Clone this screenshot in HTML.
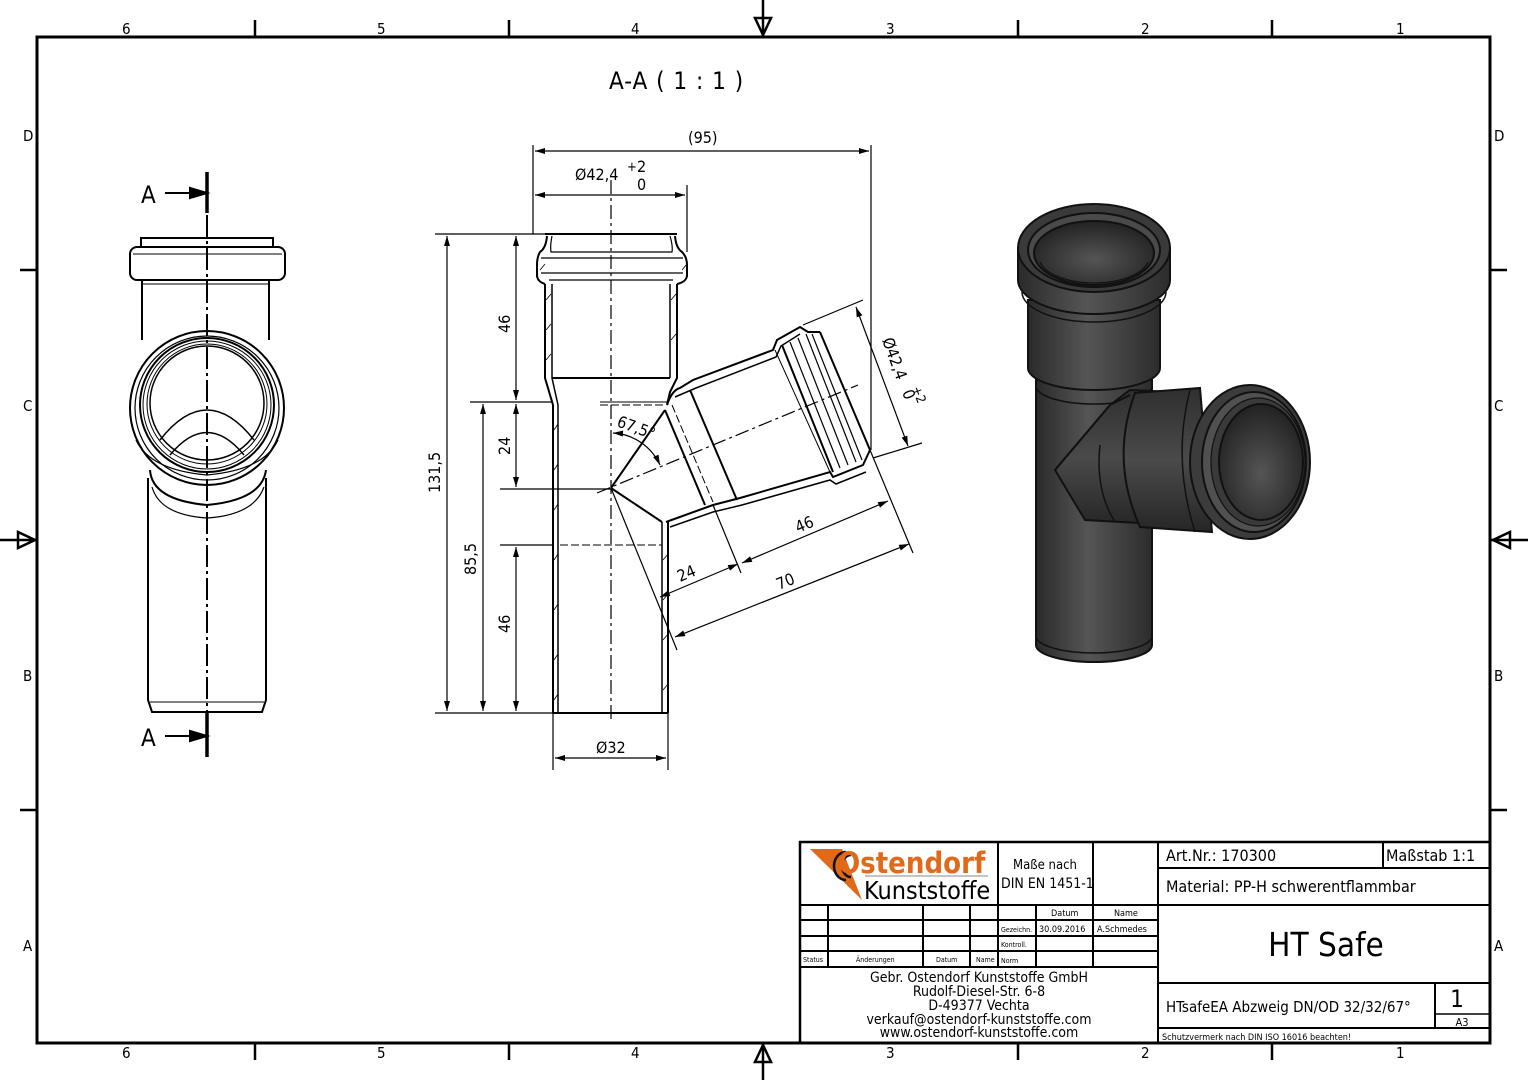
<!DOCTYPE html>
<html><head><meta charset="utf-8"><style>
html,body{margin:0;padding:0;background:#fff}
svg{display:block}
text{font-family:"DejaVu Sans Condensed","Liberation Sans Narrow","Liberation Sans",sans-serif;fill:#000}
</style></head><body>
<svg width="1528" height="1080" viewBox="0 0 1528 1080" xmlns="http://www.w3.org/2000/svg">
<defs>
<marker id="ar" viewBox="0 0 10 6" refX="10" refY="3" markerWidth="12" markerHeight="6" orient="auto-start-reverse" markerUnits="userSpaceOnUse"><path d="M0,0L10,3L0,6z" fill="#000"/></marker>
<linearGradient id="gv" x1="0" x2="1" y1="0" y2="0"><stop offset="0" stop-color="#2a2a2a"/><stop offset="0.45" stop-color="#555"/><stop offset="1" stop-color="#2c2c2c"/></linearGradient>
<linearGradient id="gh" x1="0" x2="0" y1="0" y2="1"><stop offset="0" stop-color="#2f2f2f"/><stop offset="0.5" stop-color="#4a4a4a"/><stop offset="1" stop-color="#262626"/></linearGradient>
<radialGradient id="gi" cx="0.5" cy="0.6" r="0.6"><stop offset="0" stop-color="#555"/><stop offset="1" stop-color="#222"/></radialGradient>
</defs>

<g stroke="#000" fill="none">
<rect x="37" y="37" width="1453" height="1006" stroke-width="3"/>
<g stroke-width="2.5">
<line x1="255" y1="20" x2="255" y2="37"/><line x1="509" y1="20" x2="509" y2="37"/><line x1="1018" y1="20" x2="1018" y2="37"/><line x1="1272" y1="20" x2="1272" y2="37"/>
<line x1="255" y1="1043" x2="255" y2="1060"/><line x1="509" y1="1043" x2="509" y2="1060"/><line x1="1018" y1="1043" x2="1018" y2="1060"/><line x1="1272" y1="1043" x2="1272" y2="1060"/>
<line x1="20" y1="270" x2="37" y2="270"/><line x1="20" y1="810" x2="37" y2="810"/>
<line x1="1490" y1="270" x2="1507" y2="270"/><line x1="1490" y1="810" x2="1507" y2="810"/>
<line x1="763" y1="0" x2="763" y2="37"/><path d="M755,18L771,18L763,35z"/>
<line x1="763" y1="1043" x2="763" y2="1080"/><path d="M755,1062L771,1062L763,1045z"/>
<line x1="0" y1="540" x2="37" y2="540"/><path d="M18,532L18,548L35,540z"/>
<line x1="1490" y1="540" x2="1528" y2="540"/><path d="M1510,532L1510,548L1493,540z"/>
</g></g>
<g font-size="15">
<text x="122" y="34">6</text><text x="377" y="34">5</text><text x="631" y="34">4</text><text x="886" y="34">3</text><text x="1141" y="34">2</text><text x="1396" y="34">1</text>
<text x="122" y="1058">6</text><text x="377" y="1058">5</text><text x="631" y="1058">4</text><text x="886" y="1058">3</text><text x="1141" y="1058">2</text><text x="1396" y="1058">1</text>
<text x="23" y="141">D</text><text x="23" y="411">C</text><text x="23" y="681">B</text><text x="23" y="951">A</text>
<text x="1494" y="141">D</text><text x="1494" y="411">C</text><text x="1494" y="681">B</text><text x="1494" y="951">A</text>
</g>

<text x="609" y="89" font-size="24" letter-spacing="1">A-A ( 1 : 1 )</text>

<!-- left view -->
<g stroke="#000" fill="none" stroke-width="2">
<line x1="207" y1="172" x2="207" y2="213" stroke-width="3.5"/>
<line x1="207" y1="713" x2="207" y2="757" stroke-width="3.5"/>
<line x1="207" y1="215" x2="207" y2="712" stroke-width="2" stroke-dasharray="22,4,3,4"/>
<path d="M141,247L141,238L273,238L273,247"/>
<rect x="130" y="247" width="155" height="33" rx="7"/>
<line x1="133" y1="254" x2="282" y2="254" stroke-width="1"/>
<line x1="141" y1="284" x2="268" y2="284" stroke-width="1"/>
<line x1="142" y1="280" x2="142" y2="340"/><line x1="269" y1="280" x2="269" y2="340"/>
<path d="M148,478L148,700L152,712L262,712L266,700L266,478"/>
<line x1="150" y1="702" x2="264" y2="702" stroke-width="1"/>
<path d="M150,470Q152,500 207,505Q262,500 266,470"/>
<path d="M152,487Q160,515 207,518Q254,515 264,487" stroke-width="1.2"/>
<circle cx="207" cy="408" r="77"/>
<circle cx="207" cy="408" r="72" stroke-width="1.2"/>
<circle cx="207" cy="405" r="67"/>
<circle cx="207" cy="405" r="64" stroke-width="1"/>
<circle cx="207" cy="404" r="60" stroke-width="1"/>
<circle cx="207" cy="403" r="57" stroke-width="1.5"/>
<path d="M160,440Q207,380 254,440" stroke-width="1.5"/>
<path d="M170,455Q207,410 244,455" stroke-width="1.5"/>
<path d="M136,440Q150,470 207,475Q264,470 278,440" stroke-width="1.2"/>
<line x1="165" y1="193" x2="198" y2="193"/><path d="M190,188L207,193L190,198z" fill="#000"/>
<line x1="165" y1="736" x2="198" y2="736"/><path d="M190,731L207,736L190,741z" fill="#000"/>
</g>
<text x="141" y="203" font-size="24">A</text>
<text x="141" y="746" font-size="24">A</text>

<!-- section view -->
<g stroke="#000" fill="none" stroke-width="2">
<line x1="611" y1="180" x2="611" y2="722" stroke-width="1.2" stroke-dasharray="14,4,3,4"/>
<line x1="597" y1="493" x2="858" y2="385" stroke-width="1.2" stroke-dasharray="14,4,3,4"/>
<path d="M545,234L677,234"/>
<path d="M547,236Q546,248 540,252Q537,257 537,265L537,276Q538,282 545,284"/>
<path d="M675,236Q676,248 682,252Q687,257 687,265L687,276Q686,282 677,284"/>
<path d="M552,236Q550,246 551,252L672,252Q673,246 670,236" stroke-width="1.2"/>
<line x1="541" y1="258" x2="683" y2="258" stroke-width="1.2"/>
<line x1="541" y1="273" x2="683" y2="273" stroke-width="1.2"/>
<line x1="549" y1="280" x2="673" y2="280" stroke-width="1.2"/>
<path d="M545,284L545,378L553,405L553,713"/>
<path d="M552,284L552,378L558,405L558,713" stroke-width="1.5"/>
<path d="M677,284L677,378L670,392L667,405"/>
<path d="M670,284L670,378" stroke-width="1.5"/>
<line x1="552" y1="378" x2="670" y2="378"/>
<line x1="553" y1="713" x2="668" y2="713"/>
<path d="M668,713L668,522" /><path d="M662,713L662,522" stroke-width="1.5"/>
<path d="M611,488L665,410M611,488L662,522"/>
<line x1="600" y1="402" x2="667" y2="402" stroke-width="1"/>
<line x1="600" y1="405" x2="665" y2="405" stroke-width="1" stroke-dasharray="8,3"/>
<line x1="560" y1="545" x2="662" y2="545" stroke-width="1" stroke-dasharray="8,3"/>
<path d="M667,405Q672,390 680,388L693,380L773,350L777,340L800,327L808,332L820,332"/>
<path d="M666,522L713,505L740,498L830,472L833,477L863,465L870,450"/>
<path d="M670,527L713,512L742,505L830,480L836,484L866,472" stroke-width="1.5"/>
<path d="M675,397L696,388L776,357L781,346L800,334" stroke-width="1.5"/>
<line x1="820" y1="332" x2="870" y2="450"/>
<line x1="665" y1="410" x2="705" y2="505"/>
<line x1="690" y1="390" x2="737" y2="500"/>
<line x1="672" y1="405" x2="713" y2="502" stroke-width="1" stroke-dasharray="8,3"/>
<line x1="782" y1="345" x2="833" y2="472"/>
<line x1="790" y1="342" x2="840" y2="468" stroke-width="1.2"/>
<line x1="798" y1="338" x2="848" y2="465" stroke-width="1.2"/>
<line x1="806" y1="334" x2="856" y2="462" stroke-width="1.2"/>
<line x1="812" y1="334" x2="862" y2="460" stroke-width="1.2"/>
<path d="M775,350L830,472" stroke-width="1"/>
</g>
<g stroke="#000" stroke-width="0.8">
<path d="M546,300l5,-6M546,330l5,-6M546,360l5,-6M554,430l4,-6M554,470l4,-6M554,510l4,-6M554,560l4,-6M554,610l4,-6M554,660l4,-6M554,700l4,-6M663,560l5,-6M663,600l5,-6M663,640l5,-6M663,690l5,-6M671,300l5,-6M671,340l5,-6M540,270l5,-6M682,270l5,-6"/>
</g>

<g stroke="#000" stroke-width="1.2" fill="none">
<line x1="533" y1="145" x2="533" y2="234"/><line x1="871" y1="145" x2="871" y2="450"/>
<line x1="687" y1="185" x2="687" y2="252"/>
<line x1="535" y1="151" x2="869" y2="151" marker-start="url(#ar)" marker-end="url(#ar)"/>
<line x1="535" y1="195" x2="685" y2="195" marker-start="url(#ar)" marker-end="url(#ar)"/>
<line x1="435" y1="234" x2="545" y2="234"/>
<line x1="470" y1="402" x2="553" y2="402"/>
<line x1="500" y1="489" x2="611" y2="489"/>
<line x1="500" y1="545" x2="553" y2="545"/>
<line x1="435" y1="713" x2="553" y2="713"/>
<line x1="447" y1="236" x2="447" y2="711" marker-start="url(#ar)" marker-end="url(#ar)"/>
<line x1="483" y1="404" x2="483" y2="711" marker-start="url(#ar)" marker-end="url(#ar)"/>
<line x1="516" y1="236" x2="516" y2="400" marker-start="url(#ar)" marker-end="url(#ar)"/>
<line x1="516" y1="404" x2="516" y2="487" marker-start="url(#ar)" marker-end="url(#ar)"/>
<line x1="516" y1="547" x2="516" y2="711" marker-start="url(#ar)" marker-end="url(#ar)"/>
<line x1="553" y1="713" x2="553" y2="770"/><line x1="668" y1="713" x2="668" y2="770"/>
<line x1="555" y1="758" x2="666" y2="758" marker-start="url(#ar)" marker-end="url(#ar)"/>
<line x1="611" y1="488" x2="677" y2="650"/>
<line x1="713" y1="505" x2="741" y2="573"/>
<line x1="870" y1="450" x2="913" y2="553"/>
<line x1="660" y1="597" x2="738" y2="564" marker-start="url(#ar)" marker-end="url(#ar)"/>
<line x1="742" y1="563" x2="888" y2="501" marker-start="url(#ar)" marker-end="url(#ar)"/>
<line x1="675" y1="637" x2="909" y2="544" marker-start="url(#ar)" marker-end="url(#ar)"/>
<line x1="803" y1="325" x2="863" y2="300"/>
<line x1="873" y1="458" x2="922" y2="443"/>
<line x1="856" y1="307" x2="908" y2="446" marker-start="url(#ar)" marker-end="url(#ar)"/>
<path d="M613,433A55,55 0 0 1 660,465" marker-start="url(#ar)" marker-end="url(#ar)"/>
</g>
<g font-size="16">
<text x="688" y="143">(95)</text>
<text x="575" y="180">Ø42,4</text><text x="627" y="171" font-size="13">+</text><text x="637" y="172">2</text><text x="637" y="190">0</text>
<text x="596" y="753">Ø32</text>
<text transform="translate(440,493) rotate(-90)">131,5</text>
<text transform="translate(476,575) rotate(-90)">85,5</text>
<text transform="translate(510,333) rotate(-90)">46</text>
<text transform="translate(510,455) rotate(-90)">24</text>
<text transform="translate(510,633) rotate(-90)">46</text>
<text transform="translate(616,426) rotate(20)">67,5°</text>
<text transform="translate(680,582) rotate(-22.5)">24</text>
<text transform="translate(798,533) rotate(-22.5)">46</text>
<text transform="translate(779,590) rotate(-22.5)">70</text>
<text transform="translate(882,340) rotate(70)">Ø42,4</text>
<text transform="translate(912,388) rotate(70)" font-size="13">+2</text>
<text transform="translate(902,392) rotate(70)">0</text>
</g>

<!-- 3D render -->
<g stroke="#111" stroke-width="2">
<path d="M1036,380L1036,645A58,17 0 0 0 1152,645L1152,380z" fill="url(#gv)"/>
<path d="M1036,636A58,17 0 0 0 1152,636" fill="none" stroke-width="1.5"/>
<path d="M1028,300L1028,368A66,22 0 0 0 1160,368L1160,300z" fill="url(#gv)"/>
<path d="M1036,386A58,18 0 0 0 1152,386" fill="none" stroke-width="1.5"/>
<path d="M1018,248L1018,280A76,34 0 0 0 1170,280L1170,248z" fill="url(#gv)"/>
<path d="M1022,292A72,30 0 0 0 1166,292" fill="none" stroke-width="1.5"/>
<ellipse cx="1094" cy="248" rx="76" ry="44" fill="#3a3a3a"/>
<ellipse cx="1094" cy="250" rx="66" ry="37" fill="#4a4a4a"/>
<ellipse cx="1094" cy="253" rx="60" ry="32" fill="url(#gi)"/>
<path d="M1040,262A55,26 0 0 0 1148,262" fill="none" stroke-width="1.2"/>
<path d="M1110,405L1055,470L1085,520L1175,525L1175,392L1130,390z" fill="url(#gh)"/>
<path d="M1055,470L1110,405L1130,395" fill="none"/>
<path d="M1100,445Q1095,490 1115,522" fill="none" stroke-width="1.5"/>
<path d="M1135,393L1200,388L1212,532L1140,527Q1110,460 1135,393z" fill="url(#gh)"/>
<ellipse cx="1250" cy="462" rx="60" ry="77" fill="#3c3c3c"/>
<ellipse cx="1254" cy="462" rx="52" ry="70" fill="#505050"/>
<ellipse cx="1258" cy="462" rx="47" ry="64" fill="#3a3a3a" stroke-width="1.2"/>
<ellipse cx="1261" cy="462" rx="42" ry="58" fill="url(#gi)"/>
<path d="M1190,390Q1172,460 1195,532" fill="none" stroke-width="1.5"/>
</g>

<!-- title block -->
<g stroke="#000" fill="none">
<rect x="800" y="842" width="690" height="201" stroke-width="2.5"/>
<g stroke-width="2">
<line x1="998" y1="842" x2="998" y2="967"/><line x1="1093" y1="842" x2="1093" y2="967"/><line x1="1158" y1="842" x2="1158" y2="1043"/>
<line x1="800" y1="905" x2="1490" y2="905"/>
<line x1="800" y1="920" x2="1158" y2="920"/><line x1="800" y1="936" x2="1158" y2="936"/><line x1="800" y1="951" x2="1158" y2="951"/><line x1="800" y1="967" x2="1158" y2="967"/>
<line x1="828" y1="905" x2="828" y2="967"/><line x1="923" y1="905" x2="923" y2="967"/><line x1="970" y1="905" x2="970" y2="967"/><line x1="1036" y1="905" x2="1036" y2="967"/>
<line x1="1158" y1="868" x2="1490" y2="868"/><line x1="1383" y1="842" x2="1383" y2="868"/>
<line x1="1158" y1="983" x2="1490" y2="983"/><line x1="1158" y1="1028" x2="1490" y2="1028"/>
<line x1="1435" y1="983" x2="1435" y2="1028"/><line x1="1435" y1="1014" x2="1490" y2="1014" stroke-width="1.5"/>
</g></g>
<path d="M810,849L842,849L862,900z" fill="#e06a1a"/>
<g fill="none" stroke="#111" stroke-width="2.5"><path d="M846,852A12,14 0 0 0 846,880"/><path d="M851,855A9,11 0 0 0 851,877"/></g>
<text x="838" y="873" font-family="Liberation Sans,sans-serif" font-size="29" font-weight="bold" style="fill:#e06a1a">Ostendorf</text>
<line x1="865" y1="876" x2="988" y2="876" stroke="#888" stroke-width="1"/>
<text x="864" y="899" font-family="Liberation Sans,sans-serif" font-size="25">Kunststoffe</text>
<text x="1013" y="869" font-size="13">Maße nach</text>
<text x="1001" y="888" font-size="14">DIN EN 1451-1</text>
<g font-size="9">
<text x="1051" y="916">Datum</text><text x="1114" y="916">Name</text>
<text x="1001" y="932" font-size="7">Gezeichn.</text><text x="1039" y="932">30.09.2016</text><text x="1097" y="932">A.Schmedes</text>
<text x="1001" y="947" font-size="7">Kontroll.</text>
<text x="803" y="962" font-size="7">Status</text><text x="856" y="962" font-size="7">Änderungen</text><text x="936" y="962" font-size="7">Datum</text><text x="976" y="962" font-size="7">Name</text><text x="1001" y="963" font-size="7">Norm</text>
</g>
<g font-size="14" text-anchor="middle">
<text x="979" y="982">Gebr. Ostendorf Kunststoffe GmbH</text>
<text x="979" y="996">Rudolf-Diesel-Str. 6-8</text>
<text x="979" y="1010">D-49377 Vechta</text>
<text x="979" y="1024">verkauf@ostendorf-kunststoffe.com</text>
<text x="979" y="1037">www.ostendorf-kunststoffe.com</text>
</g>
<text x="1166" y="861" font-size="16">Art.Nr.: 170300</text>
<text x="1386" y="861" font-size="16">Maßstab 1:1</text>
<text x="1166" y="892" font-size="16">Material: PP-H schwerentflammbar</text>
<text x="1326" y="956" font-size="33" text-anchor="middle">HT Safe</text>
<text x="1166" y="1012" font-size="15">HTsafeEA Abzweig DN/OD 32/32/67°</text>
<text x="1457" y="1007" font-size="24" text-anchor="middle">1</text>
<text x="1462" y="1026" font-size="11" text-anchor="middle">A3</text>
<text x="1162" y="1040" font-size="9">Schutzvermerk nach DIN ISO 16016 beachten!</text>
</svg>
</body></html>
